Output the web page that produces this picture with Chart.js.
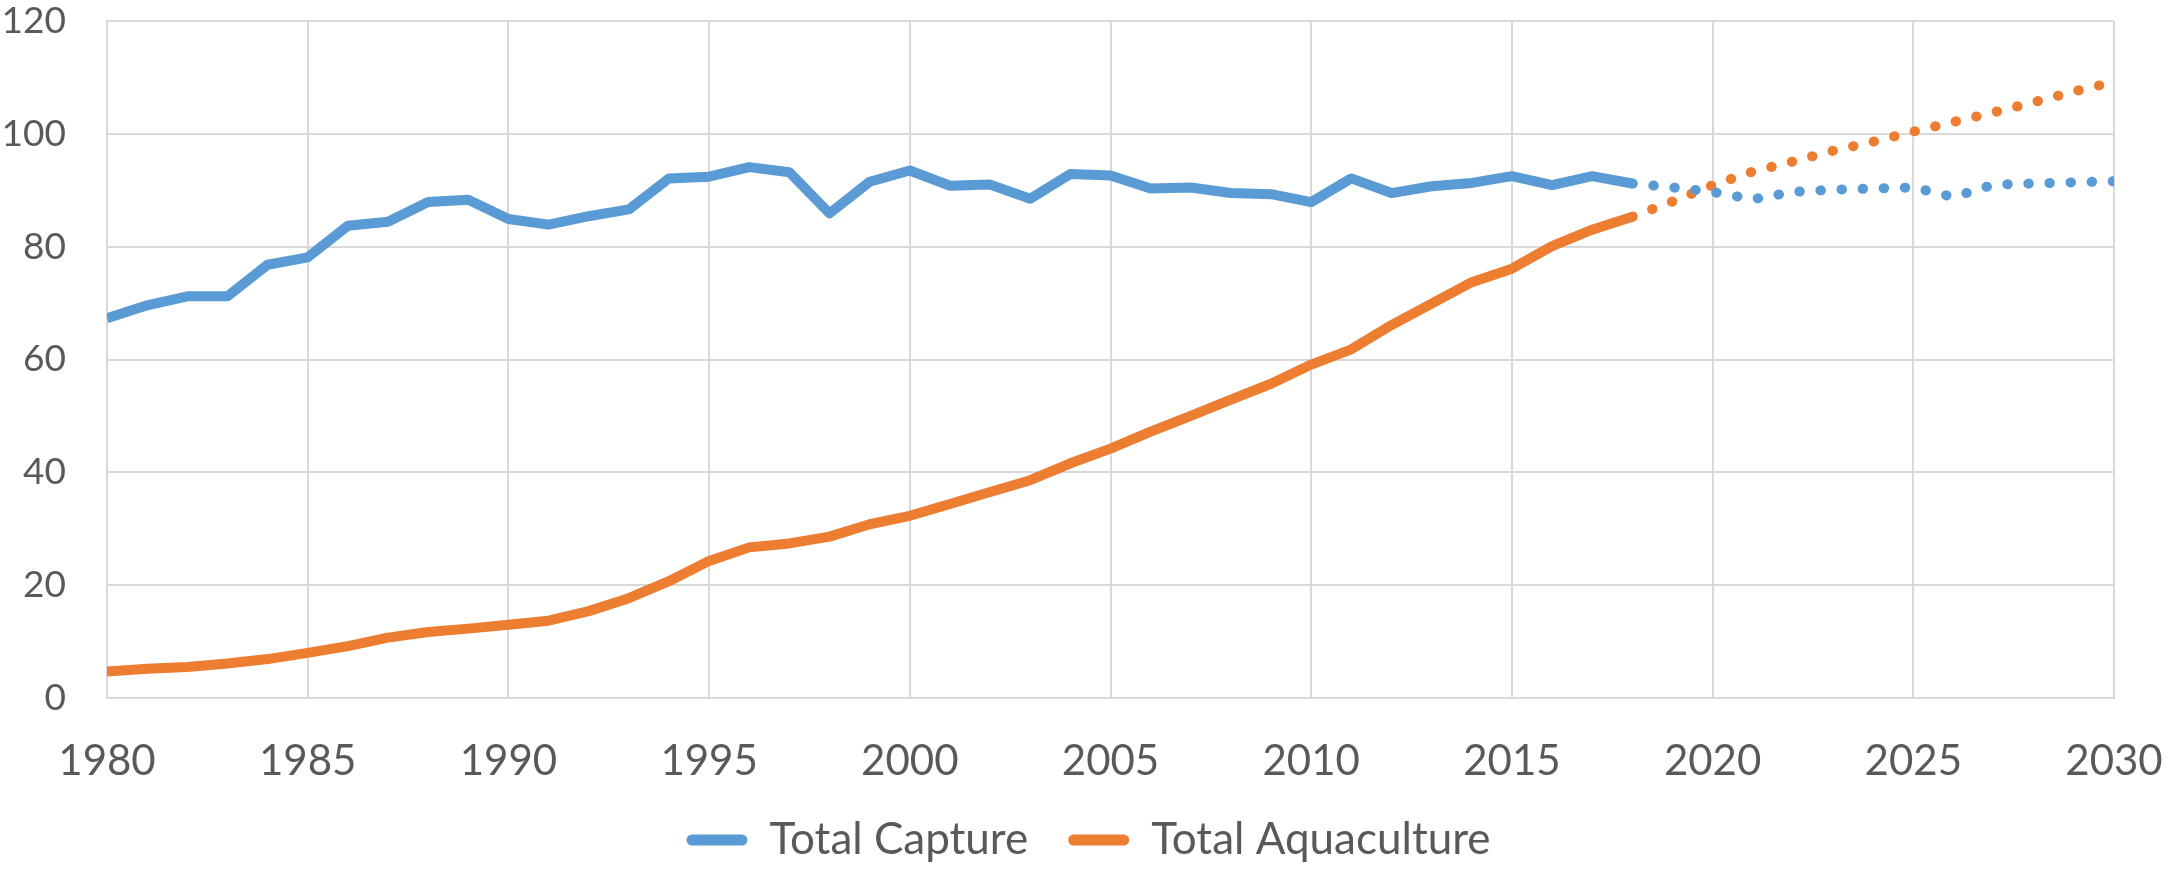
<!DOCTYPE html>
<html>
<head>
<meta charset="utf-8">
<script src="https://cdn.jsdelivr.net/npm/chart.js@4"></script>
<style>
  html, body { margin: 0; padding: 0; background: #fff; }
  canvas { display: block; }
</style>
</head>
<body>
<canvas id="chart" width="2177" height="872"></canvas>
<script>
const years = [
  1980, 1981, 1982, 1983, 1984, 1985, 1986, 1987, 1988, 1989,
  1990, 1991, 1992, 1993, 1994, 1995, 1996, 1997, 1998, 1999,
  2000, 2001, 2002, 2003, 2004, 2005, 2006, 2007, 2008, 2009,
  2010, 2011, 2012, 2013, 2014, 2015, 2016, 2017, 2018, 2019,
  2020, 2021, 2022, 2023, 2024, 2025, 2026, 2027, 2028, 2029, 2030
];

const capture = [
  67.3, 69.6, 71.2, 71.2, 76.8, 78.1, 83.7, 84.4, 87.9, 88.3,
  84.9, 83.9, 85.4, 86.6, 92.1, 92.4, 94.1, 93.2, 85.9, 91.5,
  93.5, 90.8, 91.0, 88.5, 92.9, 92.6, 90.3, 90.5, 89.5, 89.3,
  87.9, 92.1, 89.5, 90.7, 91.3, 92.5, 90.9, 92.5, 91.2, 90.5,
  89.7, 88.4, 89.7, 90.1, 90.3, 90.5, 88.8, 91.0, 91.2, 91.4, 91.6
];

const aquaculture = [
  4.7, 5.2, 5.5, 6.1, 6.9, 8.0, 9.2, 10.7, 11.7, 12.3,
  13.0, 13.7, 15.4, 17.7, 20.7, 24.3, 26.7, 27.4, 28.6, 30.8,
  32.3, 34.4, 36.5, 38.6, 41.6, 44.2, 47.2, 50.0, 52.9, 55.7,
  59.1, 61.8, 66.1, 69.9, 73.7, 76.1, 80.1, 83.0, 85.3, 88.0,
  90.9, 93.3, 95.1, 97.0, 98.6, 100.4, 102.1, 103.8, 105.6, 107.5, 109.2
];

// last year of reported data, after it the lines are projections (dotted)
const lastActual = 2018;

const TEXT = '#595959';
const GRID = '#d9d9d9';
const FONT = 'Lato';

function series(label, values, color) {
  return {
    label,
    data: years.map((x, i) => ({ x, y: values[i] })),
    borderColor: color,
    backgroundColor: color,
    borderWidth: 10,
    borderJoinStyle: 'round',
    pointRadius: 0,
    fill: false,
    tension: 0,
    segment: {
      borderDash: ctx => ctx.p0.parsed.x >= lastActual ? [0.5, 20.6] : undefined,
      borderCapStyle: ctx => ctx.p0.parsed.x >= lastActual ? 'round' : 'butt',
    },
  };
}

new Chart(document.getElementById('chart'), {
  type: 'line',
  data: {
    datasets: [
      series('Total Capture', capture, '#5B9BD5'),
      series('Total Aquaculture', aquaculture, '#ED7D31'),
    ],
  },
  options: {
    responsive: false,
    animation: false,
    layout: { padding: 0 },
    plugins: {
      tooltip: { enabled: false },
      legend: {
        position: 'bottom',
        labels: {
          font: { family: FONT, size: 44 },
          color: TEXT,
          boxWidth: 61,
          boxHeight: 11,
          useBorderRadius: true,
          borderRadius: 5.5,
          padding: 40,
          generateLabels: chart =>
            Chart.defaults.plugins.legend.labels.generateLabels(chart)
              .map(l => ({ ...l, lineWidth: 0, lineDash: [] })),
        },
      },
    },
    scales: {
      x: {
        type: 'linear',
        min: 1980,
        max: 2030,
        grid: { color: GRID, lineWidth: 2, drawTicks: false },
        border: { color: GRID, width: 2 },
        ticks: {
          stepSize: 5,
          padding: 38,
          color: TEXT,
          font: { family: FONT, size: 42 },
          maxRotation: 0,
          callback: v => String(v),
        },
        // fixed box so the plot area lands where the original has it
        afterFit: s => {
          s.height = 80;
          s.paddingLeft = 0;
          s.paddingRight = 63;
        },
      },
      y: {
        min: 0,
        max: 120,
        grid: { color: GRID, lineWidth: 2, drawTicks: false },
        border: { color: GRID, width: 2 },
        ticks: {
          stepSize: 20,
          padding: 41,
          color: TEXT,
          font: { family: FONT, size: 37 },
        },
        afterFit: s => {
          s.width = 107;
          s.paddingTop = 21;
          s.paddingBottom = 0;
        },
      },
    },
  },
});
</script>
</body>
</html>
